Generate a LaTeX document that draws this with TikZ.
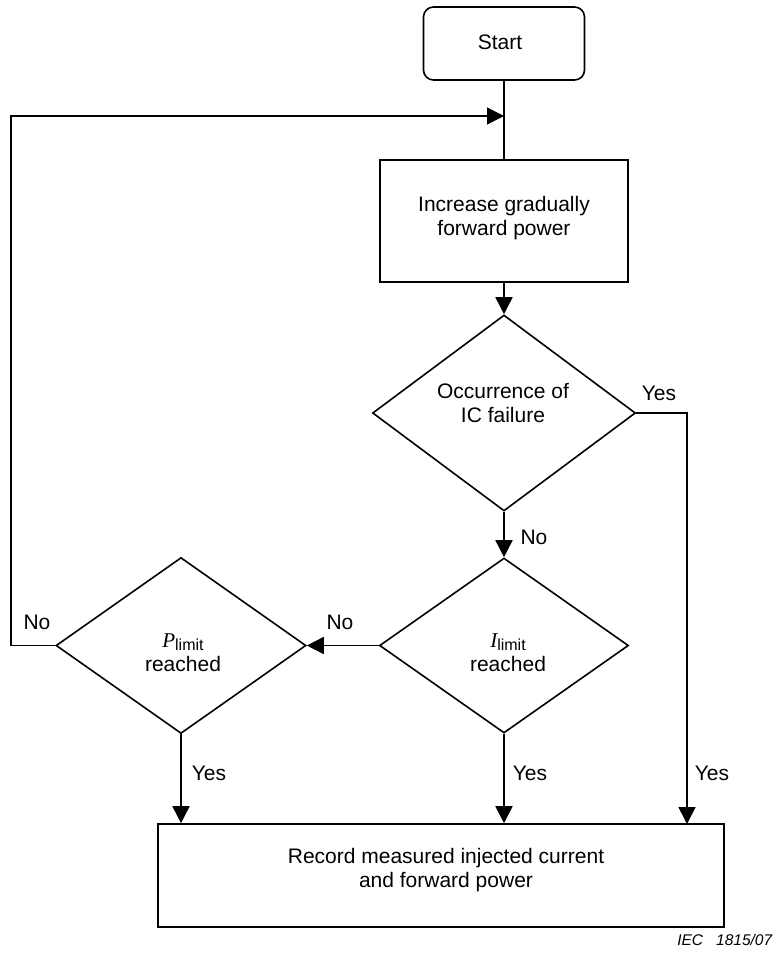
\documentclass[tikz,border=0pt]{standalone}
\usepackage{fontspec}
\setmainfont{Liberation Sans}
\newfontfamily\serifit{Liberation Serif}
\usetikzlibrary{shapes.geometric,arrows.meta}
\begin{document}
\begin{tikzpicture}[x=1pt,y=-1pt,
  line width=1.6pt,
  every node/.style={font=\fontsize{21}{24}\selectfont},
  boxshape/.style={draw,rectangle,inner sep=0pt},
  startbox/.style={draw,rectangle,rounded corners=10pt,inner sep=0pt},
  decision/.style={draw,diamond,inner sep=0pt},
  txt/.style={anchor=base,align=center,inner sep=0pt},
  lbl/.style={inner sep=0pt},
  arr/.style={-{Triangle[length=17pt,width=17pt]}}
]
\useasboundingbox (0,0) rectangle (775,956);
% nodes
\node[startbox,minimum width=161pt,minimum height=73pt] (start) at (504,43.5) {};
\node[boxshape,minimum width=248pt,minimum height=122pt] (proc) at (504,221) {};
\node[decision,minimum width=263pt,minimum height=196pt] (d1) at (504,413) {};
\node[decision,minimum width=249pt,minimum height=175pt] (d2) at (504,645.5) {};
\node[decision,minimum width=250pt,minimum height=176pt] (d3) at (181,645.5) {};
\node[boxshape,minimum width=566pt,minimum height=103pt] (rec) at (441,875.5) {};
% texts (anchor = baseline of the last line)
\node[txt] (tstart) at (500,49) {Start};
\node[txt] (tproc) at (504,235) {Increase gradually\\forward power};
\node[txt] (td1) at (503,422) {Occurrence of\\IC failure};
\node[txt] (td2) at (508,671) {{\serifit\itshape I}\raisebox{-3pt}{\fontsize{16}{16}\selectfont limit}\\reached};
\node[txt] (td3) at (183,671) {{\serifit\itshape P}\raisebox{-3pt}{\fontsize{16}{16}\selectfont limit}\\reached};
\node[txt] (trec) at (446,887) {Record measured injected current\\and forward power};
\node[anchor=base east,inner sep=0pt,font=\fontsize{15.5}{18}\selectfont\itshape] (iec) at (773,945) {IEC\hspace{13pt}1815/07};
% coordinates
\coordinate (m) at (504,116);
\coordinate (yr) at (687,824);
% connectors
\draw (start.south) -- (proc.north);
\draw[arr] (d3.west) -- ++(-44,0) |- (m);
\draw[arr] (proc.south) -- (d1.north);
\draw[arr] (d1.east) -| (yr);
\draw[arr] (d1.south) -- (d2.north);
\draw[arr] (d2.west) -- (d3.east);
\draw[arr] (d3.south) -- (d3.south |- rec.north);
\draw[arr] (d2.south) -- (d2.south |- rec.north);
% labels
\node[lbl] (y1) at (659,393) {Yes};
\node[lbl] (n1) at (534,537) {No};
\node[lbl] (n2) at (340,622) {No};
\node[lbl] (n3) at (37,622) {No};
\node[lbl] (y2) at (209,773) {Yes};
\node[lbl] (y3) at (530,773) {Yes};
\node[lbl] (y4) at (712,773) {Yes};
\end{tikzpicture}
\end{document}
